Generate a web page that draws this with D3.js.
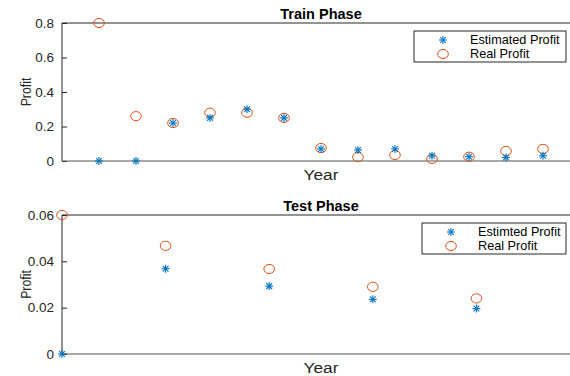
<!DOCTYPE html>
<html>
<head>
<meta charset="utf-8">
<script src="https://cdn.jsdelivr.net/npm/d3@7"></script>
<style>
  body { margin: 0; background: #fff; }
  svg { font-family: "Liberation Sans", Arial, sans-serif; }
</style>
</head>
<body>
<div id="chart"></div>
<script>
// Train phase data (years 1..13)
var trainYears = [1, 2, 3, 4, 5, 6, 7, 8, 9, 10, 11, 12, 13];
var trainEstimated = [0, 0, 0.22, 0.25, 0.30, 0.25, 0.07, 0.064, 0.07, 0.03, 0.025, 0.02, 0.03];
var trainReal = [0.8, 0.26, 0.22, 0.28, 0.28, 0.25, 0.075, 0.023, 0.035, 0.012, 0.025, 0.058, 0.07];
var trainTicks = [0, 0.2, 0.4, 0.6, 0.8];

// Test phase data
var testYears = [0, 1, 2, 3, 4];
var testEstimated = [0, 0.0368, 0.0293, 0.0236, 0.0196];
var testReal = [0.06, 0.0467, 0.0367, 0.029, 0.024];
var testTicks = [0, 0.02, 0.04, 0.06];

var width = 570, height = 376;
var blue = "#0072BD", orange = "#D95319", axisColor = "#262626";

var svg = d3.select("#chart").append("svg")
    .attr("width", width)
    .attr("height", height);

function asterisk(g, x, y) {
    var s = 4;
    var a = g.append("g").attr("transform", "translate(" + x + "," + y + ")")
        .attr("stroke", blue).attr("stroke-width", 1.1);
    a.append("line").attr("x1", -s).attr("x2", s).attr("y1", 0).attr("y2", 0);
    a.append("line").attr("x1", 0).attr("x2", 0).attr("y1", -s).attr("y2", s);
    a.append("line").attr("x1", -s * 0.72).attr("x2", s * 0.72).attr("y1", -s * 0.72).attr("y2", s * 0.72);
    a.append("line").attr("x1", -s * 0.72).attr("x2", s * 0.72).attr("y1", s * 0.72).attr("y2", -s * 0.72);
}

function circle(g, x, y) {
    g.append("ellipse").attr("cx", x).attr("cy", y)
        .attr("rx", 5.3).attr("ry", 4.6)
        .attr("fill", "none").attr("stroke", orange).attr("stroke-width", 1);
}

function panel(opt) {
    var g = svg.append("g");
    var x = d3.scaleLinear().domain(opt.xDomain).range([opt.left, opt.right]);
    var y = d3.scaleLinear().domain(opt.yDomain).range([opt.bottom, opt.top]);

    // y axis (ticks inside)
    var yAxis = g.append("g")
        .attr("transform", "translate(" + opt.left + ",0)")
        .call(d3.axisLeft(y).tickValues(opt.ticks).tickSize(-5).tickPadding(8)
            .tickFormat(function(d) { return d === 0 ? "0" : String(d); }));
    yAxis.select(".domain").remove();
    yAxis.selectAll("line").attr("stroke", axisColor);
    yAxis.selectAll("text").attr("font-size", 13.5).attr("fill", axisColor)
        .attr("font-family", "Liberation Sans, Arial, sans-serif");

    // box lines (left, top, bottom)
    g.append("line").attr("x1", opt.left).attr("x2", opt.left)
        .attr("y1", opt.top).attr("y2", opt.bottom).attr("stroke", axisColor);
    g.append("line").attr("x1", opt.left).attr("x2", opt.right)
        .attr("y1", opt.top).attr("y2", opt.top).attr("stroke", axisColor);
    g.append("line").attr("x1", opt.left).attr("x2", opt.right)
        .attr("y1", opt.bottom).attr("y2", opt.bottom).attr("stroke", "#555");

    // title
    g.append("text").attr("x", (opt.left + opt.right) / 2).attr("y", opt.top - 4)
        .attr("text-anchor", "middle").attr("font-weight", "bold")
        .attr("font-size", 14.5).attr("fill", "#000").text(opt.title);

    // axis labels
    g.append("text")
        .attr("transform", "translate(321," + (opt.bottom + 19) + ") scale(1.15,1)")
        .attr("text-anchor", "middle").attr("font-size", 15).attr("fill", axisColor)
        .text("Year");
    g.append("text")
        .attr("transform", "translate(" + 31 + "," + ((opt.top + opt.bottom) / 2) + ") rotate(-90) scale(0.85,1)")
        .attr("text-anchor", "middle").attr("font-size", 14.5).attr("fill", axisColor)
        .text("Profit");

    // points
    opt.years.forEach(function(d, i) {
        circle(g, x(d), y(opt.real[i]));
    });
    opt.years.forEach(function(d, i) {
        asterisk(g, x(d), y(opt.est[i]));
    });

    // legend
    var L = opt.legend;
    g.append("rect").attr("x", L.x).attr("y", L.y).attr("width", L.w).attr("height", L.h)
        .attr("fill", "#fff").attr("stroke", axisColor);
    asterisk(g, L.mx, L.y + 9);
    circle(g, L.mx, L.y + 23);
    g.append("text").attr("x", L.tx).attr("y", L.y + 13).attr("font-size", 12.7)
        .attr("fill", "#000").text(L.labels[0]);
    g.append("text").attr("x", L.tx).attr("y", L.y + 27).attr("font-size", 12.7)
        .attr("fill", "#000").text(L.labels[1]);
}

panel({
    title: "Train Phase",
    left: 62, right: 580, top: 23, bottom: 161,
    xDomain: [0, 14], yDomain: [0, 0.8], ticks: trainTicks,
    years: trainYears, est: trainEstimated, real: trainReal,
    legend: { x: 414, y: 31, w: 152, h: 31, mx: 443, tx: 470,
              labels: ["Estimated Profit", "Real Profit"] }
});

panel({
    title: "Test Phase",
    left: 62, right: 580, top: 215, bottom: 354,
    xDomain: [0, 5], yDomain: [0, 0.06], ticks: testTicks,
    years: testYears, est: testEstimated, real: testReal,
    legend: { x: 422, y: 223, w: 144, h: 31, mx: 451, tx: 478,
              labels: ["Estimted Profit", "Real Profit"] }
});
</script>
</body>
</html>
